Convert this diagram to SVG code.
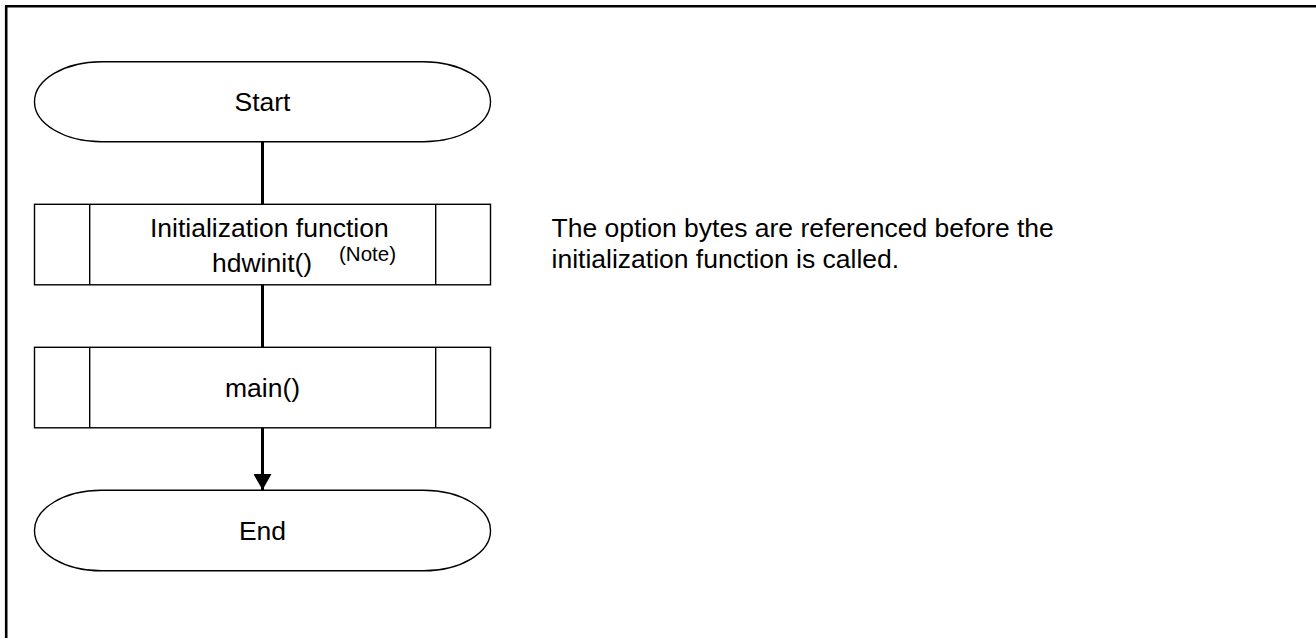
<svg xmlns="http://www.w3.org/2000/svg" width="1316" height="638" viewBox="0 0 1316 638">
<style>
.shape{fill:#fff;stroke:#000;stroke-width:1.4}
.conn{stroke:#000;stroke-width:3;fill:none}
.t{font-family:"Liberation Sans",Arial,sans-serif;font-size:26.5px;fill:#000}
.n{font-family:"Liberation Sans",Arial,sans-serif;font-size:20.5px;fill:#000}
</style>
<defs>
<marker id="arrow" markerUnits="userSpaceOnUse" markerWidth="20" markerHeight="18" refX="16" refY="9" orient="auto">
<path d="M0,0 L16,9 L0,18 Z" fill="#000"/>
</marker>
</defs>
<rect width="1316" height="638" fill="#fff"/>
<g id="frame">
<path d="M5,6.2 H1316 M6.2,5 V638" stroke="#000" stroke-width="2.6" fill="none"/>
</g>
<g id="connectors">
<line class="conn" x1="262.5" y1="142" x2="262.5" y2="204"/>
<line class="conn" x1="262.5" y1="285" x2="262.5" y2="347"/>
<line class="conn" x1="262.5" y1="428" x2="262.5" y2="490" marker-end="url(#arrow)"/>
</g>
<g id="start">
<rect class="shape" x="34.5" y="61.7" width="456" height="80" rx="67" ry="40"/>
<text class="t" x="262.5" y="111" text-anchor="middle">Start</text>
</g>
<g id="init">
<rect class="shape" x="34.5" y="204.3" width="456" height="80.5"/>
<line class="shape" x1="89.7" y1="204.3" x2="89.7" y2="284.8"/>
<line class="shape" x1="435.7" y1="204.3" x2="435.7" y2="284.8"/>
<text class="t" x="150" y="237">Initialization function</text>
<text class="t" x="212" y="271.5">hdwinit()</text>
<text class="n" x="339" y="261">(Note)</text>
</g>
<g id="main">
<rect class="shape" x="34.5" y="347.3" width="456" height="80.5"/>
<line class="shape" x1="89.7" y1="347.3" x2="89.7" y2="427.8"/>
<line class="shape" x1="435.7" y1="347.3" x2="435.7" y2="427.8"/>
<text class="t" x="262.5" y="396.5" text-anchor="middle">main()</text>
</g>
<g id="end">
<rect class="shape" x="34.5" y="490.3" width="456" height="80.5" rx="67" ry="40"/>
<text class="t" x="262.5" y="540" text-anchor="middle">End</text>
</g>
<g id="note">
<text class="t" x="551.5" y="237">The option bytes are referenced before the</text>
<text class="t" x="551.5" y="268">initialization function is called.</text>
</g>
</svg>
